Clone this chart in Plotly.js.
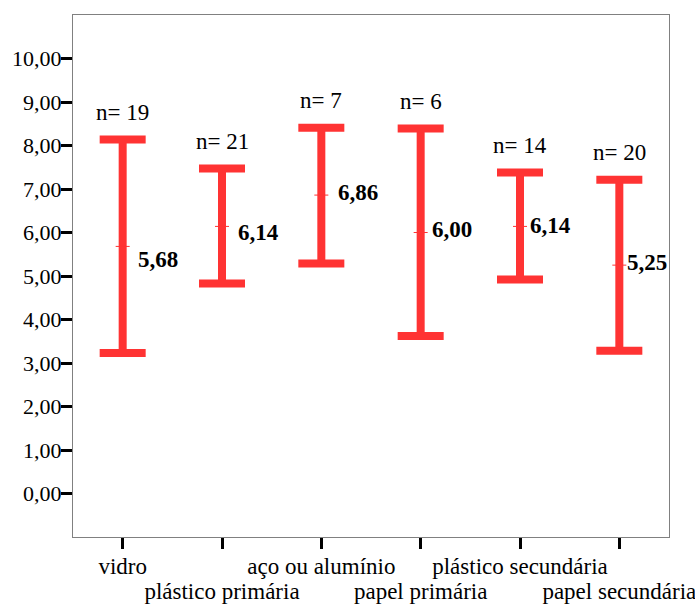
<!DOCTYPE html>
<html>
<head>
<meta charset="utf-8">
<script src="https://cdn.plot.ly/plotly-3.0.1.min.js"></script>
<style>html,body{margin:0;padding:0;background:#fff;}#chart{width:695px;height:605px;}</style>
</head>
<body>
<div id="chart"></div>
<script>
// Data
const categories = ["vidro", "plástico primária", "aço ou alumínio", "papel primária", "plástico secundária", "papel secundária"];
const means = [5.68, 6.14, 6.86, 6.00, 6.14, 5.25];
const upperCI = [8.14, 7.47, 8.41, 8.39, 7.38, 7.21];
const lowerCI = [3.23, 4.83, 5.29, 3.62, 4.92, 3.28];
const counts = [19, 21, 7, 6, 14, 20];
const yTickVals = [0, 1, 2, 3, 4, 5, 6, 7, 8, 9, 10];

// Styling
const RED = "rgb(255,51,51)";
const FONT = "Liberation Serif";
const meanLabelXShift = [13, 14, 15, 9, 8, 6];
const meanLabelYShift = [-13, -6, 3, 3, 1, 3];

const idx = categories.map((c, i) => i);
const plus = upperCI.map((u, i) => u - means[i]);
const minus = lowerCI.map((l, i) => means[i] - l);

const traces = [
  {
    type: "scatter", mode: "markers",
    x: idx, y: means,
    marker: {symbol: "line-ew-open", size: 10, color: RED, line: {color: RED, width: 1}},
    error_y: {type: "data", symmetric: false, array: plus, arrayminus: minus,
              color: RED, thickness: 8, width: 23},
    hoverinfo: "skip", showlegend: false, cliponaxis: false
  },
  {
    type: "scatter", mode: "markers", xaxis: "x2",
    x: idx, y: means, marker: {opacity: 0}, hoverinfo: "skip", showlegend: false
  }
];

const annotations = [];
idx.forEach(i => {
  annotations.push({
    x: i, y: means[i], xref: "x", yref: "y",
    text: "<b>" + means[i].toFixed(2).replace(".", ",") + "</b>",
    showarrow: false, xanchor: "left", yanchor: "middle",
    xshift: meanLabelXShift[i], yshift: meanLabelYShift[i],
    font: {family: FONT, size: 23, color: "#000"}
  });
  annotations.push({
    x: i, y: upperCI[i], xref: "x", yref: "y",
    text: "n= " + counts[i],
    showarrow: false, xanchor: "center", yanchor: "middle", yshift: 27,
    font: {family: FONT, size: 23, color: "#000"}
  });
});

const layout = {
  width: 695, height: 605,
  margin: {l: 73, r: 26, t: 15, b: 68, pad: 0},
  paper_bgcolor: "#fff", plot_bgcolor: "#fff",
  separators: ",.",
  showlegend: false,
  font: {family: FONT, size: 22, color: "#000"},
  xaxis: {
    range: [-0.5, 5.5], tickmode: "array", tickvals: idx,
    ticktext: categories.map((c, i) => i % 2 === 0 ? c : ""),
    ticks: "outside", ticklen: 11, tickwidth: 3, tickcolor: "#000",
    showline: true, linecolor: "#808080", linewidth: 1, mirror: true,
    showgrid: false, zeroline: false, fixedrange: true,
    ticklabelstandoff: -3, ticklabeloverflow: "allow",
    tickfont: {family: FONT, size: 23, color: "#000"}
  },
  xaxis2: {
    overlaying: "x", anchor: "y", side: "bottom",
    range: [-0.5, 5.5], tickmode: "array", tickvals: idx,
    ticktext: categories.map((c, i) => i % 2 === 1 ? c : ""),
    ticks: "", showline: false, showgrid: false, zeroline: false, fixedrange: true,
    ticklabelstandoff: 38, ticklabeloverflow: "allow",
    tickfont: {family: FONT, size: 23, color: "#000"}
  },
  yaxis: {
    range: [-1, 11], tickmode: "array", tickvals: yTickVals, tickformat: ".2f",
    ticks: "outside", ticklen: 11, tickwidth: 3, tickcolor: "#000",
    showline: true, linecolor: "#808080", linewidth: 1, mirror: true,
    showgrid: false, zeroline: false, fixedrange: true,
    ticklabelstandoff: -5,
    tickfont: {family: FONT, size: 22, color: "#000"}
  },
  annotations: annotations
};

Plotly.newPlot("chart", traces, layout, {displayModeBar: false, staticPlot: true});
</script>
</body>
</html>
